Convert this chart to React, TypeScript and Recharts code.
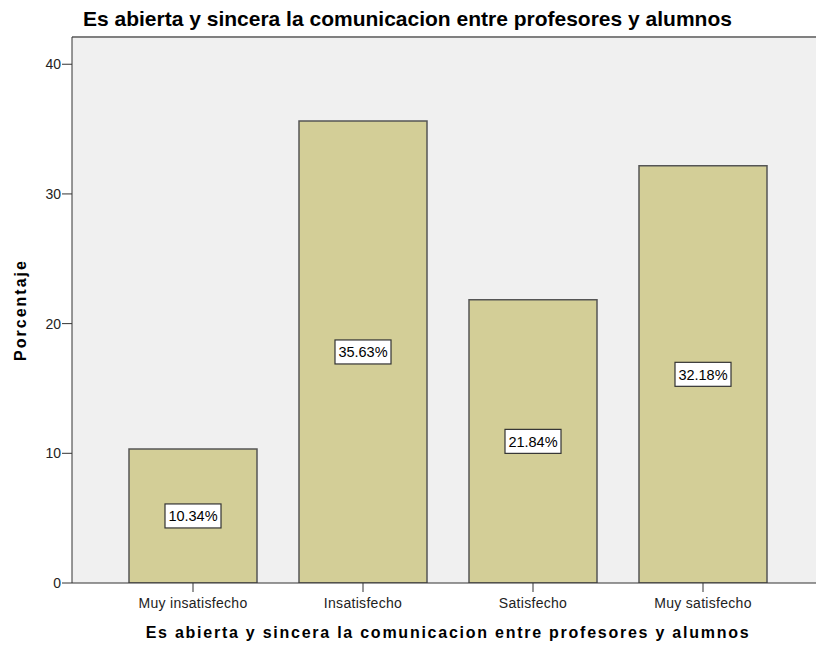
import { BarChart, Bar, XAxis, YAxis, CartesianGrid, LabelList, ReferenceLine } from "recharts";

const categories = ["Muy insatisfecho", "Insatisfecho", "Satisfecho", "Muy satisfecho"];
const percentages = [10.34, 35.63, 21.84, 32.18];
const yTicks = [0, 10, 20, 30, 40];
const Y_MAX = 42.1;

const title = "Es abierta y sincera la comunicacion entre profesores y alumnos";

const data = categories.map((name, i) => ({ name, value: percentages[i] }));

const font = "'Liberation Sans', Arial, sans-serif";

const ValueBox = (props: any) => {
  const { x, y, width, height, value } = props;
  const cx = x + width / 2;
  const cy = y + height / 2;
  const w = 56;
  const h = 24;
  return (
    <g>
      <rect x={cx - w / 2} y={cy - h / 2} width={w} height={h} fill="#fff" stroke="#333" strokeWidth={1.2} />
      <text x={cx} y={cy + 5.5} textAnchor="middle" fontSize={14.5} fontFamily={font} fill="#000">
        {Number(value).toFixed(2)}%
      </text>
    </g>
  );
};

export default function App() {
  return (
    <div style={{ position: "fixed", left: 0, top: 0, width: 816, height: 645, overflow: "hidden", background: "#fff" }}>
      <div
        style={{
          position: "absolute",
          left: 83,
          top: 8,
          fontFamily: font,
          fontSize: 21,
          lineHeight: "21px",
          fontWeight: "bold",
          color: "#000",
          whiteSpace: "nowrap",
        }}
      >
        {title}
      </div>
      <div
        style={{
          position: "absolute",
          left: 21,
          top: 310,
          transform: "translate(-50%, -50%) rotate(-90deg)",
          fontFamily: font,
          fontSize: 16,
          fontWeight: "bold",
          letterSpacing: 2,
          whiteSpace: "nowrap",
        }}
      >
        Porcentaje
      </div>
      <div
        style={{
          position: "absolute",
          left: 448,
          top: 633,
          transform: "translate(-50%, -50%)",
          fontFamily: font,
          fontSize: 16,
          fontWeight: "bold",
          letterSpacing: 1.75,
          whiteSpace: "nowrap",
        }}
      >
        {title}
      </div>
      <BarChart width={816} height={645} data={data} margin={{ top: 37, right: 0, left: 0, bottom: 0 }}>
        <CartesianGrid horizontal={false} vertical={false} fill="#f0f0f0" />
        <ReferenceLine y={Y_MAX} stroke="#808080" strokeWidth={2} />
        <XAxis
          dataKey="name"
          height={62}
          padding={{ left: 36, right: 28 }}
          tickSize={9}
          tickMargin={6}
          axisLine={{ stroke: "#333" }}
          tickLine={{ stroke: "#333" }}
          tick={{ fill: "#222", fontSize: 14, fontFamily: font, letterSpacing: 0.3 }}
        />
        <YAxis
          width={72}
          domain={[0, Y_MAX]}
          ticks={yTicks}
          allowDataOverflow
          tickSize={10}
          tickMargin={1}
          axisLine={{ stroke: "#333" }}
          tickLine={{ stroke: "#333" }}
          tick={{ fill: "#222", fontSize: 14, fontFamily: font }}
        />
        <Bar dataKey="value" fill="#d3ce97" stroke="#555" strokeWidth={1.5} barSize={128} isAnimationActive={false}>
          <LabelList dataKey="value" content={ValueBox} />
        </Bar>
      </BarChart>
    </div>
  );
}
